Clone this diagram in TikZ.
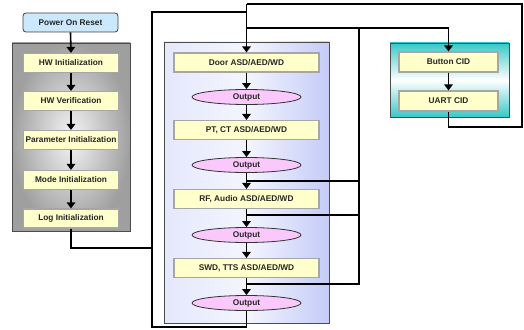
\documentclass[tikz,border=0pt]{standalone}
\usepackage{fontspec}
\setmainfont{Liberation Sans}
\definecolor{stageyellow}{RGB}{255,255,204}
\definecolor{resetblue}{RGB}{204,232,252}
\definecolor{outpink}{RGB}{250,200,250}
\definecolor{cidteal}{RGB}{56,200,200}
\definecolor{loopblue}{RGB}{196,204,248}
\usetikzlibrary{shapes,arrows.meta,positioning,calc,fit,backgrounds}

\begin{document}
\begin{tikzpicture}[x=1pt,y=-1pt,
    wire/.style={line width=1.6pt},
    flow/.style={wire,-{Triangle[width=8.5pt,length=6pt]}},
    label/.style={font=\fontsize{8.3}{10}\selectfont\bfseries, text=black!85},
    stage/.style={label, draw=gray!70, line width=1.2pt, fill=stageyellow, minimum width=95pt, minimum height=19pt, inner sep=0pt},
    detect/.style={stage, minimum width=145pt},
    outcome/.style={label, ellipse, draw=black!80, line width=0.8pt, fill=outpink, minimum width=109pt, minimum height=15pt, inner sep=0pt},
    panel/.style={draw=black!70, line width=0.8pt, inner sep=0pt}]
    \useasboundingbox (0,0) rectangle (524,329);

    % panels
    \node[panel, draw=gray!60!black, shading=radial, inner color=gray!8, outer color=gray!75, minimum width=118pt, minimum height=188pt] (initpanel) at (71,137) {};
    \node[panel, left color=loopblue!45, right color=loopblue, middle color=loopblue!20, minimum width=165pt, minimum height=281pt] (looppanel) at (246.5,182.5) {};
    \node[panel, top color=cidteal, bottom color=cidteal, middle color=white, minimum width=119pt, minimum height=74pt] (cidpanel) at (449.5,80) {};

    % init sequence
    \node[stage, rounded corners=3pt, fill=resetblue, draw=black!75, line width=0.8pt] (por) at (70.5,22.5) {Power On Reset};
    \node[stage] (hwinit) at (71,63) {HW Initialization};
    \node[stage] (hwver) at (71,101) {HW Verification};
    \node[stage] (paraminit) at (71,140) {Parameter Initialization};
    \node[stage] (modeinit) at (71,180) {Mode Initialization};
    \node[stage] (loginit) at (71,218.5) {Log Initialization};

    % detection loop
    \node[detect] (door) at (246.5,62.5) {Door ASD/AED/WD};
    \node[outcome] (out1) at (246.5,97) {Output};
    \node[detect] (ptct) at (246.5,130) {PT, CT ASD/AED/WD};
    \node[outcome] (out2) at (246.5,165) {Output};
    \node[detect] (rf) at (246.5,199) {RF, Audio ASD/AED/WD};
    \node[outcome] (out3) at (246.5,235) {Output};
    \node[detect] (swd) at (246.5,268) {SWD, TTS ASD/AED/WD};
    \node[outcome] (out4) at (246.5,303) {Output};

    % CID
    \node[stage, minimum width=99pt, minimum height=20pt] (button) at (448.5,62) {Button CID};
    \node[stage, minimum width=99pt, minimum height=20pt] (uart) at (448.5,101) {UART CID};

    % corners and junctions
    \coordinate (toptap) at (246.5,4);
    \coordinate (rtop) at (522,4);
    \coordinate (rbot) at (522,127);
    \coordinate (ltop) at (152,12);
    \coordinate (lbot) at (152,327);
    \coordinate (logtap) at (152,248);
    \coordinate (cidtap) at (246.5,28);
    \coordinate (rjoin) at (359,28);
    \coordinate (rfin) at (359,181);
    \coordinate (rfout) at (359,215);
    \coordinate (swdout) at (359,284);

    \foreach \a/\b in {por/hwinit,hwinit/hwver,hwver/paraminit,paraminit/modeinit,modeinit/loginit,
                       door/out1,out1/ptct,ptct/out2,out2/rf,rf/out3,out3/swd,swd/out4,button/uart}
        \draw[flow] (\a.south) -- (\b.north);

    \draw[wire] (loginit.south) |- (logtap);
    \draw[wire] (out4.south) |- (lbot) -- (ltop) -- (ltop -| toptap);
    \draw[wire] (uart.south) |- (rbot) -- (rtop) -- (toptap);
    \draw[flow] (toptap) -- (door.north);
    \draw[flow] (cidtap) -| (button.north);
    \draw[wire] (rjoin) -- (swdout) -- (swdout -| swd.south);
    \draw[wire] (rfin) -- (rfin -| rf.north);
    \draw[wire] (rfout) -- (rfout -| rf.south);
\end{tikzpicture}
\end{document}
